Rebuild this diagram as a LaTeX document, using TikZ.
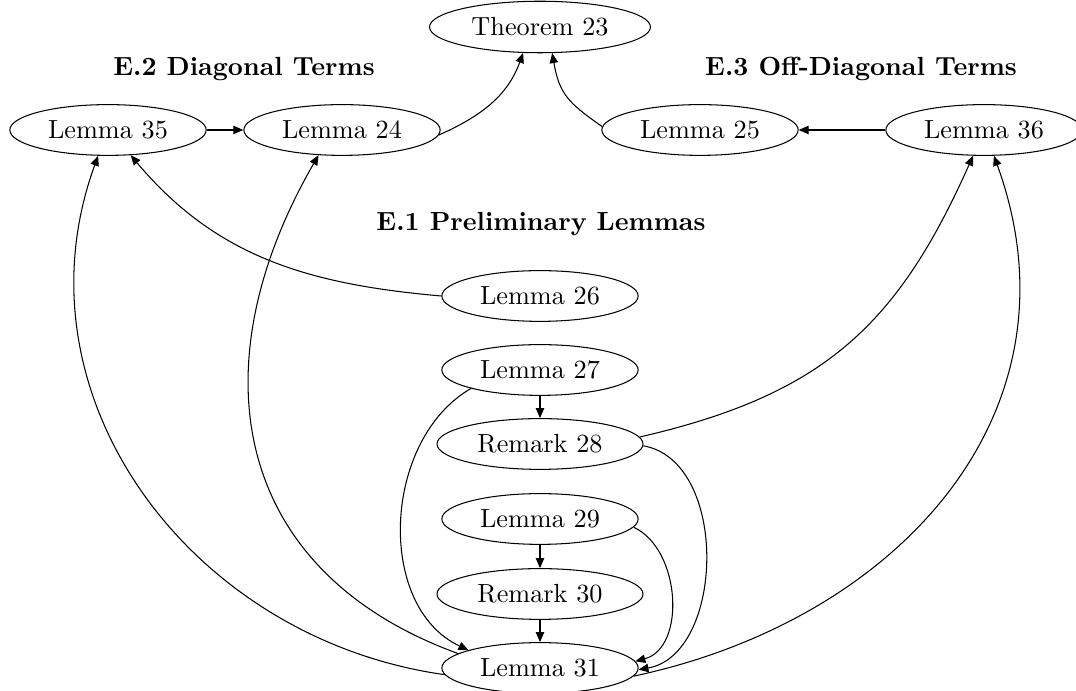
\documentclass[tikz,border=0pt]{standalone}
\usetikzlibrary{shapes.geometric, arrows.meta}
\begin{document}
\begin{tikzpicture}[x=0.0134cm, y=0.0134cm,
  res/.style={draw, ellipse, inner sep=0pt, minimum width=2.63cm, minimum height=0.68cm},
  rem/.style={res, minimum width=2.76cm},
  dep/.style={-{Triangle[length=3.8pt, width=3.2pt]}},
  sect/.style={font=\bfseries}]
\useasboundingbox (0,0) rectangle (1076,691);

% section titles
\node [sect] (diag) at (244,622) {E.2 Diagonal Terms};
\node [sect] (offdiag) at (861,622) {E.3 Off-Diagonal Terms};
\node [sect] (prelim) at (541,467) {E.1 Preliminary Lemmas};

% results
\node [res, minimum width=2.96cm, minimum height=0.69cm] (t23) at (540,664) {Theorem 23};
\node [res] (l35) at (108,561) {Lemma 35};
\node [res] (l24) at (342,561) {Lemma 24};
\node [res] (l25) at (700,561) {Lemma 25};
\node [res] (l36) at (984,561) {Lemma 36};

\node [res] (l26) at (540,395) {Lemma 26};
\node [res] (l27) at (540,321) {Lemma 27};
\node [rem] (r28) at (540,247) {Remark 28};
\node [res] (l29) at (540,172) {Lemma 29};
\node [rem] (r30) at (540,97) {Remark 30};
\node [res] (l31) at (540,23) {Lemma 31};

% dependencies
\draw [dep] (l35) -- (l24);
\draw [dep] (l24.-3) to [out=24, in=-110] (t23.-123);
\draw [dep] (l25.178) to [out=145, in=-80, looseness=1.2] (t23.-65);
\draw [dep] (l36) -- (l25);

\draw [dep] (l26.west) to [out=175, in=-50] (l35.-48);
\draw [dep] (l31.184) to [out=172, in=-110, looseness=1.05] (l35.-111);
\draw [dep] (l31.170) to [out=160, in=-120, looseness=1.2] (l24.-133);
\draw [dep] (l27.-165) to [out=210, in=155] (l31.166);
\draw [dep] (l27) -- (r28);
\draw [dep] (r28.4) to [out=13, in=-114, looseness=1.1] (l36.-113);
\draw [dep] (r28.-1) to [out=-10, in=10] (l31.-1);
\draw [dep] (l29) -- (r30);
\draw [dep] (l29.-5) to [out=-25, in=15] (l31.4);
\draw [dep] (r30) -- (l31);
\draw [dep] (l31.-5) to [out=12, in=-70, looseness=1.1] (l36.-69);
\end{tikzpicture}
\end{document}
